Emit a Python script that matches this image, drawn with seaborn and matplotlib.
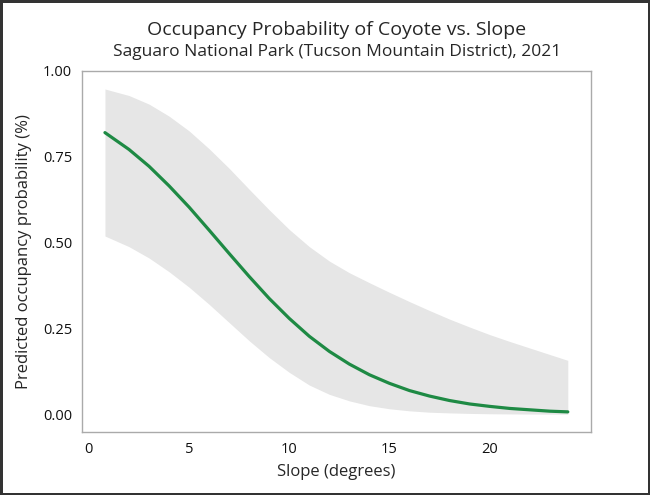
import pandas as pd
import matplotlib.pyplot as plt
import seaborn as sns

# valores
slope = [0.8, 2, 3, 4, 5, 6, 7, 8, 9, 10, 11, 12, 13, 14, 15, 16, 17, 18, 19, 20, 21, 22, 23, 23.9]
prob = [0.82, 0.771, 0.722, 0.665, 0.603, 0.536, 0.468, 0.401, 0.337, 0.279, 0.227, 0.183, 0.146,
        0.115, 0.090, 0.069, 0.053, 0.040, 0.030, 0.023, 0.017, 0.013, 0.009, 0.007]
upper = [0.947, 0.928, 0.903, 0.868, 0.825, 0.773, 0.716, 0.655, 0.595, 0.538, 0.488, 0.446, 0.412,
         0.383, 0.355, 0.328, 0.302, 0.277, 0.254, 0.232, 0.212, 0.193, 0.174, 0.157]
lower = [0.519, 0.488, 0.455, 0.415, 0.370, 0.320, 0.267, 0.214, 0.165, 0.122, 0.085, 0.058, 0.039,
         0.025, 0.016, 0.010, 0.006, 0.004, 0.0025, 0.0015, 0.001, 0.0006, 0.0004, 0.0003]
x_ticks = [0, 5, 10, 15, 20]
y_ticks = [0.00, 0.25, 0.50, 0.75, 1.00]

df = pd.DataFrame({"Slope": slope, "Prob": prob, "Upper": upper, "Lower": lower})

sns.set_style("white")
plt.rcParams['font.family'] = ['Open Sans', 'DejaVu Sans']

fig = plt.figure(figsize=(6.5, 4.95), dpi=100)
fig.patch.set_edgecolor('#333333')
fig.patch.set_linewidth(2.5)
ax = fig.add_axes([0.126, 0.127, 0.783, 0.730])

# faixa de confiança + curva prevista
ax.fill_between(df["Slope"], df["Lower"], df["Upper"], color="#e6e6e6", linewidth=0)
sns.lineplot(data=df, x="Slope", y="Prob", color="#1e8a44", linewidth=2.3, ax=ax)

ax.set_xlim(-0.35, 25.05)
ax.set_ylim(-0.052, 1.0)
ax.set_xticks(x_ticks)
ax.set_yticks(y_ticks)
ax.set_yticklabels([f"{v:.2f}" for v in y_ticks])

for s in ax.spines.values():
    s.set_color('#aaaaaa')
    s.set_linewidth(1.0)
ax.tick_params(axis='both', direction='out', length=4, width=1, color='#555555',
               labelsize=10.5, labelcolor='#111111', pad=3)

ax.set_xlabel("Slope (degrees)", fontsize=12, labelpad=5)
ax.set_ylabel("Predicted occupancy probability (%)", fontsize=12, labelpad=8)

fig.text(0.518, 0.94, "Occupancy Probability of Coyote vs. Slope", ha='center', va='center', fontsize=14)
fig.text(0.518, 0.894, "Saguaro National Park (Tucson Mountain District), 2021", ha='center',
         va='center', fontsize=12.5)

fig.savefig("out.png", dpi=100, edgecolor=fig.get_edgecolor())
